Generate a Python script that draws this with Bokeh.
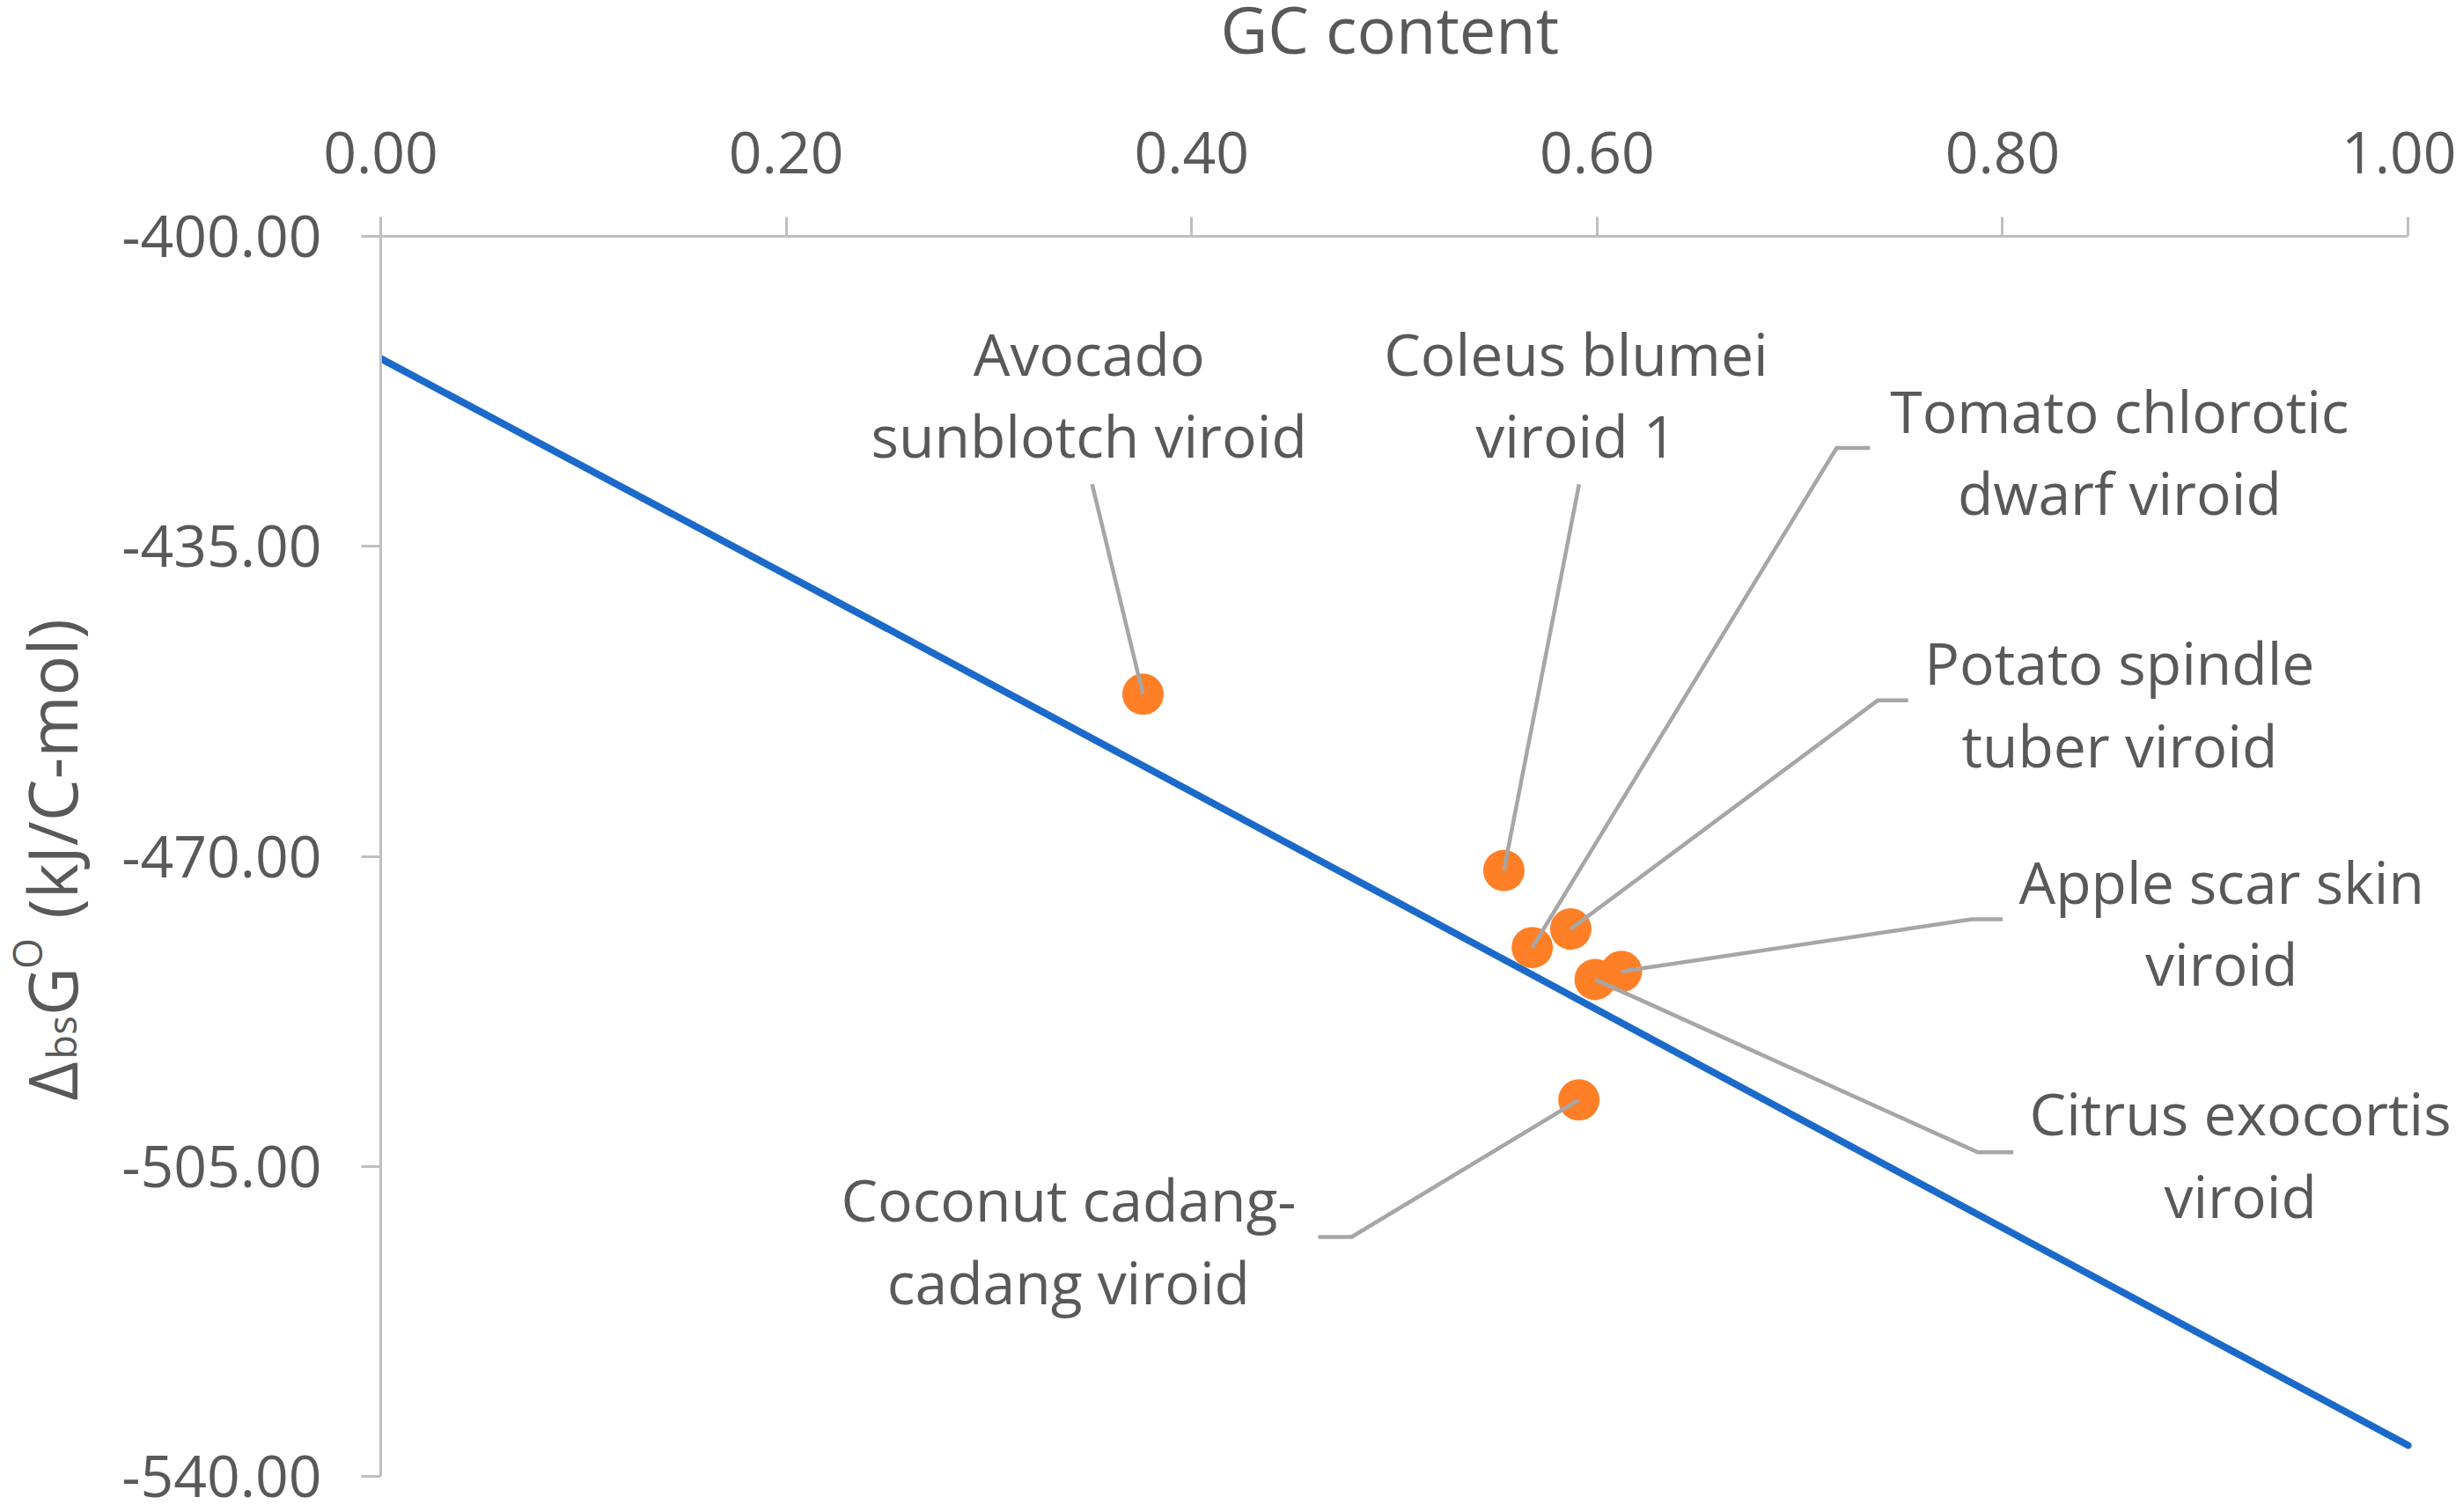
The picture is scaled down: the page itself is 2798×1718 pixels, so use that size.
from bokeh.plotting import figure
from bokeh.models import Range1d, FixedTicker, NumeralTickFormatter
from bokeh.layouts import row, column
from bokeh.core.properties import value
from bokeh.embed import file_html
from bokeh.resources import INLINE
import math

# ---------------- data ----------------
viroids = ["Avocado\nsunblotch viroid", "Coleus blumei\nviroid 1", "Tomato chlorotic\ndwarf viroid",
           "Potato spindle\ntuber viroid", "Apple scar skin\nviroid", "Citrus exocortis\nviroid",
           "Coconut cadang-\ncadang viroid"]
gc_content = [0.376, 0.554, 0.568, 0.587, 0.612, 0.599, 0.591]
dG_bs = [-451.7, -471.6, -480.3, -478.2, -483.0, -483.9, -497.5]

line_gc = [0.0, 0.25, 0.50, 0.75, 1.0]
line_dG = [-413.8, -444.3, -475.0, -505.8, -536.5]

x_ticks = [0.0, 0.2, 0.4, 0.6, 0.8, 1.0]
y_ticks = [-540, -505, -470, -435, -400]

x_title = "GC content"
y_title_parts = ["Δ", "bs", "G", "O", "(kJ/C-mol)"]

# ---------------- callout layout (label centre, leader stub start, leader elbow) ----------------
lab_x = [0.3494, 0.5896, 0.8577, 0.8577, 0.9080, 0.9173, 0.3393]
lab_y = [-417.8, -417.8, -424.25, -452.7, -477.4, -503.6, -513.3]
stub_x = [0.3509, 0.5911, 0.7346, 0.7534, 0.8000, 0.8053, 0.4624]
elb_x = [0.3509, 0.5911, 0.7181, 0.7384, 0.7848, 0.7876, 0.4789]
stub_y = [-428.0, -428.0, -423.9, -452.4, -477.1, -503.4, -512.97]

TXT = "#595959"
FONT = "Open Sans"
FS = "66px"
TITLE_FS = 74
TOTAL_H = 1712
LEFT_W = 130
MAIN_W = 2660
TOP_H = 70


def bare(fig):
    fig.outline_line_color = None
    fig.grid.visible = False
    fig.background_fill_color = "white"
    fig.border_fill_color = "white"


# ---------------- main plot ----------------
p = figure(width=MAIN_W, height=TOTAL_H - TOP_H, output_backend="svg", toolbar_location=None,
           x_range=Range1d(0, 1.0221), y_range=Range1d(-540, -400),
           x_axis_location="above", min_border_left=432 - LEFT_W, min_border_right=4,
           min_border_top=198, min_border_bottom=35)
bare(p)

for ax in [p.xaxis[0], p.yaxis[0]]:
    ax.axis_line_color = "#BFBFBF"
    ax.axis_line_width = 3
    ax.major_tick_line_color = "#BFBFBF"
    ax.major_tick_line_width = 3
    ax.major_tick_out = 22
    ax.major_tick_in = 0
    ax.minor_tick_line_color = None
    ax.major_label_text_font = FONT
    ax.major_label_text_font_size = FS
    ax.major_label_text_color = TXT
    ax.formatter = NumeralTickFormatter(format="0.00")

p.xaxis.ticker = FixedTicker(ticks=x_ticks)
p.yaxis.ticker = FixedTicker(ticks=y_ticks)
p.xaxis.bounds = (0, 1)
p.xaxis.major_label_standoff = 50
p.yaxis.major_label_standoff = 45

# fitted line
p.line(line_gc, line_dG, line_color="#1B6AC9", line_width=8, line_cap="round")

# viroid points
p.scatter(gc_content, dG_bs, size=47, fill_color="#FF7F27", line_color=None)

# leader lines
xs = [[sx, ex, px] for sx, ex, px in zip(stub_x, elb_x, gc_content)]
ys = [[sy, sy, py] for sy, py in zip(stub_y, dG_bs)]
p.multi_line(xs, ys, line_color="#A6A6A6", line_width=4.5)

# callout labels
p.text(lab_x, lab_y, text=viroids, text_align="center", text_baseline="middle",
       text_font=value(FONT), text_font_size=FS, text_color=TXT, text_line_height=1.04)

# ---------------- top strip: x-axis title (shares the GC-content scale, frames aligned) ----------------
top = figure(width=MAIN_W, height=TOP_H, output_backend="svg", toolbar_location=None,
             x_range=p.x_range, y_range=Range1d(0, TOP_H),
             x_axis_location=None, y_axis_location=None, min_border=0)
bare(top)
top.text([0.4977], [TOP_H - 32], text=[x_title], text_align="center", text_baseline="middle",
         text_font=value(FONT), text_font_size=f"{TITLE_FS}px", text_color=TXT)

# ---------------- left strip: y-axis title with sub/superscript ----------------
left = figure(width=LEFT_W, height=TOTAL_H, output_backend="svg", toolbar_location=None,
              x_range=Range1d(0, LEFT_W), y_range=Range1d(0, TOTAL_H),
              x_axis_location=None, y_axis_location=None, min_border=0)
bare(left)
BIG = 76
SMALL = 45
base_x = 58
sizes = [BIG, SMALL, BIG, SMALL, BIG]
shifts = [0, 11, 0, -28, 0]
advance = [0.62 * BIG, 1.092 * SMALL, 0.702 * BIG, 0.78 * SMALL + 22, 4.6 * BIG]
cur = TOTAL_H - 1250
for txt, fs, dx, w in zip(y_title_parts, sizes, shifts, advance):
    left.text([base_x + dx], [cur], text=[txt], angle=math.pi / 2, text_align="left",
              text_baseline="alphabetic", text_font=value(FONT), text_font_size=f"{fs}px",
              text_color=TXT)
    cur += w

layout = row(left, column(top, p))
open("out.html", "w").write(file_html(layout, INLINE))
